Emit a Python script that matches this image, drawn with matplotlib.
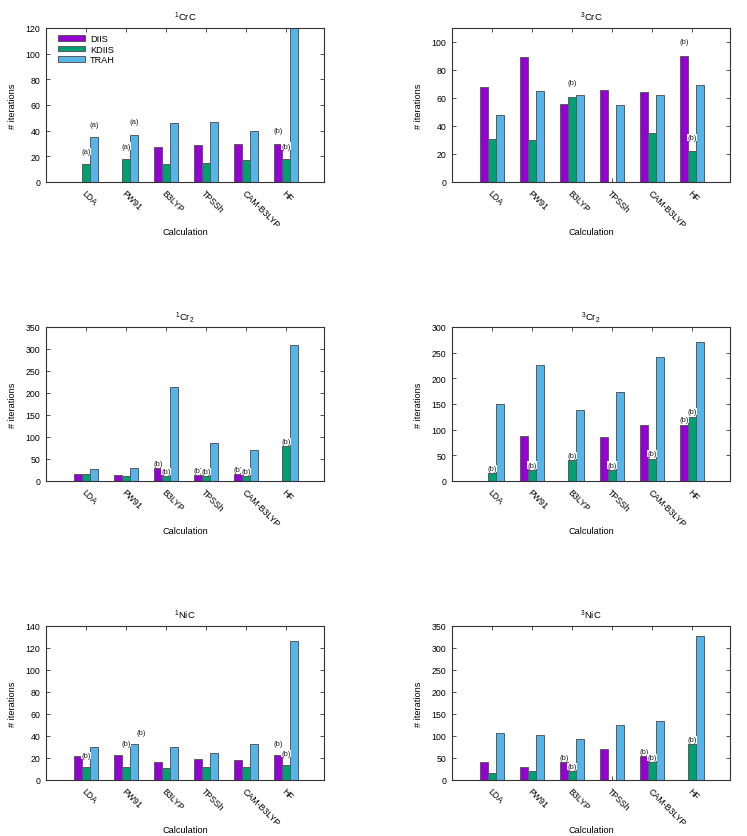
import numpy as np
import matplotlib
matplotlib.use("Agg")
import matplotlib.pyplot as plt

plt.rcParams['font.family'] = ['Liberation Sans', 'DejaVu Sans']
plt.rcParams['mathtext.fontset'] = 'custom'
plt.rcParams['mathtext.rm'] = 'Liberation Sans'
plt.rcParams['mathtext.it'] = 'Liberation Sans:italic'

# categories and series
methods = ['LDA', 'PW91', 'B3LYP', 'TPSSh', 'CAM-B3LYP', 'HF']
series = ['DIIS', 'KDIIS', 'TRAH']
colors = {'DIIS': '#9400D3', 'KDIIS': '#009E73', 'TRAH': '#56B4E9'}
nan = np.nan

# iterations per system (nan = not converged / not shown)
crc1_diis = [nan, nan, 27, 29, 30, 30]
crc1_kdiis = [14, 18, 14, 15, 17, 18]
crc1_trah = [35, 37, 46, 47, 40, 130]

crc3_diis = [68, 89, 56, 66, 64, 90]
crc3_kdiis = [31, 30, 61, nan, 35, 22]
crc3_trah = [48, 65, 62, 55, 62, 69]

cr2_1_diis = [17, 13, 30, 14, 16, nan]
cr2_1_kdiis = [17, 12, 12, 11, 12, 80]
cr2_1_trah = [28, 29, 214, 87, 71, 310]

cr2_3_diis = [nan, 88, nan, 86, 109, 110]
cr2_3_kdiis = [15, 21, 40, 21, 43, 125]
cr2_3_trah = [150, 226, 138, 174, 242, 271]

nic1_diis = [22, 23, 16, 19, 18, 23]
nic1_kdiis = [12, 12, 11, 12, 12, 14]
nic1_trah = [30, 33, 30, 25, 33, 126]

nic3_diis = [40, 30, 40, 71, 55, nan]
nic3_kdiis = [17, 20, 20, nan, 41, 81]
nic3_trah = [106, 103, 93, 126, 135, 327]

# footnote marks: (method, series, text, extra x shift in bar widths, extra y)
crc1_notes = [('LDA', 'KDIIS', '(a)', 0, 0), ('LDA', 'TRAH', '(a)', 0, 0),
              ('PW91', 'KDIIS', '(a)', 0, 0), ('PW91', 'TRAH', '(a)', 0, 0),
              ('HF', 'DIIS', '(b)', 0, 0), ('HF', 'KDIIS', '(b)', 0, 0)]
crc3_notes = [('B3LYP', 'KDIIS', '(b)', 0, 0), ('HF', 'DIIS', '(b)', 0, 0),
              ('HF', 'KDIIS', '(b)', 0, 0)]
cr2_1_notes = [('B3LYP', 'DIIS', '(b)', 0, 0), ('B3LYP', 'KDIIS', '(b)', 0, 0),
               ('TPSSh', 'DIIS', '(b)', 0, 0), ('TPSSh', 'KDIIS', '(b)', 0, 0),
               ('CAM-B3LYP', 'DIIS', '(b)', 0, 0), ('CAM-B3LYP', 'KDIIS', '(b)', 0, 0),
               ('HF', 'KDIIS', '(b)', 0, 0)]
cr2_3_notes = [('LDA', 'KDIIS', '(b)', 0, 0), ('PW91', 'KDIIS', '(b)', 0, 0),
               ('B3LYP', 'KDIIS', '(b)', 0, 0), ('TPSSh', 'KDIIS', '(b)', 0, 0),
               ('CAM-B3LYP', 'KDIIS', '(b)', 0, 0), ('HF', 'DIIS', '(b)', 0, 0),
               ('HF', 'KDIIS', '(b)', 0, 0)]
nic1_notes = [('LDA', 'KDIIS', '(b)', 0, 0), ('PW91', 'KDIIS', '(b)', 0, 11),
              ('PW91', 'TRAH', '(b)', 0.9, 0), ('HF', 'DIIS', '(b)', 0, 0),
              ('HF', 'KDIIS', '(b)', 0, 0)]
nic3_notes = [('B3LYP', 'DIIS', '(b)', 0, 0), ('B3LYP', 'KDIIS', '(b)', 0, 0),
              ('CAM-B3LYP', 'DIIS', '(b)', 0, 0), ('CAM-B3LYP', 'KDIIS', '(b)', 0, 0),
              ('HF', 'KDIIS', '(b)', 0, 0)]

panels = [
    (r'$^{\mathrm{1}}$CrC', [crc1_diis, crc1_kdiis, crc1_trah], crc1_notes, 120, 20),
    (r'$^{\mathrm{3}}$CrC', [crc3_diis, crc3_kdiis, crc3_trah], crc3_notes, 110, 20),
    (r'$^{\mathrm{1}}$Cr$_{\mathrm{2}}$', [cr2_1_diis, cr2_1_kdiis, cr2_1_trah], cr2_1_notes, 350, 50),
    (r'$^{\mathrm{3}}$Cr$_{\mathrm{2}}$', [cr2_3_diis, cr2_3_kdiis, cr2_3_trah], cr2_3_notes, 300, 50),
    (r'$^{\mathrm{1}}$NiC', [nic1_diis, nic1_kdiis, nic1_trah], nic1_notes, 140, 20),
    (r'$^{\mathrm{3}}$NiC', [nic3_diis, nic3_kdiis, nic3_trah], nic3_notes, 350, 50),
]

fig = plt.figure(figsize=(7.47, 8.37), dpi=100)
W, H = 747.0, 837.0
lefts = [46, 452]
tops = [29, 328, 627]
aw, ah = 278, 154

bw = 0.2
offs = {'DIIS': -bw, 'KDIIS': 0.0, 'TRAH': bw}
x = np.arange(len(methods))
fs = 6.3
edge = '#333333'

for i, (title, vals, notes, ymax, ystep) in enumerate(panels):
    r, c = divmod(i, 2)
    ax = fig.add_axes([lefts[c] / W, 1 - (tops[r] + ah) / H, aw / W, ah / H])
    for s, v in zip(series, vals):
        ax.bar(x + offs[s], v, width=bw, color=colors[s], edgecolor='#5a5a5a',
               linewidth=0.7, label=s, zorder=2)
    for m, s, t, dx, dy in notes:
        k = methods.index(m)
        val = vals[series.index(s)][k]
        ax.text(k + offs[s] + dx * bw, val + 10 + dy, t, ha='center', va='center',
                fontsize=5.5, color='#222222', zorder=4,
                bbox=dict(facecolor='white', edgecolor='none', pad=0.1))
    ax.set_xlim(-1, 5.95)
    ax.set_ylim(0, ymax)
    ax.set_yticks(np.arange(0, ymax + 1, ystep))
    ax.set_xticks(x)
    ax.set_xticklabels(methods, rotation=-45, ha='left', va='top',
                       rotation_mode='anchor', fontsize=fs)
    ax.tick_params(axis='both', direction='in', length=3, width=0.6, color=edge,
                   top=True, right=True, labelsize=fs, pad=4)
    for sp in ax.spines.values():
        sp.set_color(edge)
        sp.set_linewidth(0.8)
        sp.set_zorder(3)
    ax.set_title(title, fontsize=fs + 0.5, pad=5.5)
    ax.set_xlabel('Calculation', fontsize=fs + 0.3)
    ax.xaxis.set_label_coords(0.5, -0.295)
    ax.set_ylabel('# iterations', fontsize=fs + 0.3)
    ax.yaxis.set_label_coords(-0.105, 0.5)
    if i == 0:
        ax.legend(loc='upper left', bbox_to_anchor=(0.02, 1.0), frameon=False,
                  fontsize=fs + 0.3, handlelength=2.9, handleheight=0.55,
                  labelspacing=0.15, handletextpad=0.6, borderaxespad=0.3)

fig.savefig('out.png', dpi=100)
